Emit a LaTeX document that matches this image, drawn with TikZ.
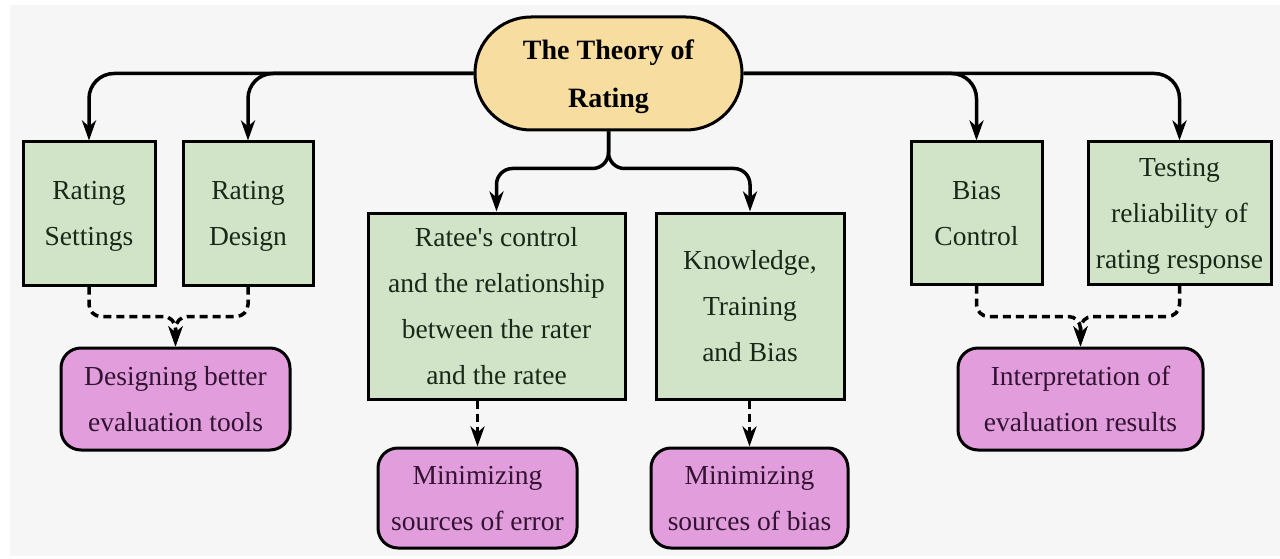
\documentclass[tikz,border=0pt]{standalone}
\usepackage{fontspec}
\setmainfont{Liberation Serif}[Ligatures=TeXOff]
\usetikzlibrary{arrows.meta}
\definecolor{bggrey}{RGB}{246,246,246}
\definecolor{topfill}{RGB}{247,221,160}
\definecolor{greenfill}{RGB}{210,228,200}
\definecolor{pinkfill}{RGB}{226,157,220}
\definecolor{greentext}{RGB}{25,40,25}
\definecolor{pinktext}{RGB}{50,20,50}
\tikzset{
  topbox/.style={draw=black, line width=3pt, fill=topfill, rounded corners=56pt,
    minimum width=267pt, minimum height=113pt, inner sep=2pt, align=center,
    text depth=0pt, font=\bfseries\fontsize{28}{48}\selectfont},
  greenbox/.style={draw=black, line width=3pt, fill=greenfill, inner sep=2pt,
    align=center, text=greentext, text depth=0pt, font=\fontsize{27.5}{46}\selectfont},
  pinkbox/.style={draw=black, line width=3pt, fill=pinkfill, inner sep=2pt,
    rounded corners=20pt, align=center, text=pinktext, text depth=0pt,
    font=\fontsize{27.5}{46}\selectfont},
  conn/.style={line width=3.5pt, rounded corners=25pt,
    -{Stealth[length=20pt,width=14pt,inset=6pt]}},
  dconn/.style={line width=3.5pt, dash pattern=on 8pt off 5pt, rounded corners=12pt,
    -{Stealth[length=20pt,width=14pt,inset=6pt]}}
}
\begin{document}
\begin{tikzpicture}[x=1pt,y=-1pt]
\fill[white] (0,0) rectangle (1280,559);
\fill[bggrey] (10,5) rectangle (1280,556);
\useasboundingbox (0,0) rectangle (1280,559);

\node[topbox] (top) at (608.5,73.5) {The Theory of\\Rating};

\node[greenbox, minimum width=132pt, minimum height=143pt] (settings) at (89,213.5) {Rating\\Settings};
\node[greenbox, minimum width=130pt, minimum height=143pt] (design) at (248,213.5) {Rating\\Design};
\node[greenbox, minimum width=257pt, minimum height=186pt] (ratee) at (496.5,306) {Ratee's control\\and the relationship\\between the rater\\and the ratee};
\node[greenbox, minimum width=188pt, minimum height=186pt] (knowledge) at (750,306) {Knowledge,\\Training\\and Bias};
\node[greenbox, minimum width=131pt, minimum height=142pt] (bias) at (976.5,213) {Bias\\Control};
\node[greenbox, minimum width=183pt, minimum height=142pt] (testing) at (1179.5,213) {Testing\\reliability of\\rating response};

\node[pinkbox, minimum width=229pt, minimum height=102pt] (designing) at (175.5,399) {Designing better\\evaluation tools};
\node[pinkbox, minimum width=199pt, minimum height=100pt] (minerr) at (477.5,498) {Minimizing\\sources of error};
\node[pinkbox, minimum width=197pt, minimum height=100pt] (minbias) at (749.5,498) {Minimizing\\sources of bias};
\node[pinkbox, minimum width=245pt, minimum height=102pt] (interp) at (1080.5,399) {Interpretation of\\evaluation results};

% solid connectors
\draw[conn] (top.west) -| (settings.north);
\draw[conn] (top.west) -| (design.north);
\draw[conn] (top.east) -| (bias.north);
\draw[conn] (top.east) -| (testing.north);
\draw[conn, rounded corners=16pt] (top.south) -- ++(0,37) -| (ratee.north);
\draw[conn, rounded corners=16pt] (top.south) -- ++(0,37) -| (knowledge.north);

% dashed connectors
\draw[dconn] (settings.south) -- ++(0,30) -| (designing.north);
\draw[dconn] (design.south) -- ++(0,30) -| (designing.north);
\draw[dconn] (bias.south) -- ++(0,31) -| (interp.north);
\draw[dconn] (testing.south) -- ++(0,31) -| (interp.north);
\draw[dconn] (ratee.south -| minerr.north) -- (minerr.north);
\draw[dconn] (knowledge.south -| minbias.north) -- (minbias.north);
\end{tikzpicture}
\end{document}
